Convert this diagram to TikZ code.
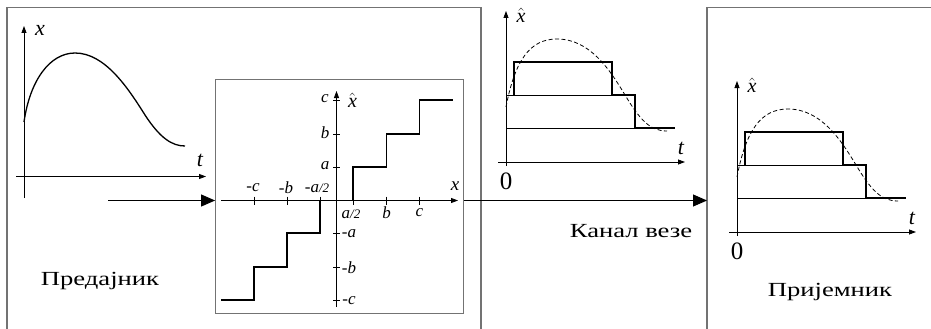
\documentclass[tikz,border=0pt]{standalone}
\usepackage{fontspec}
\setmainfont{Liberation Serif}
\newfontfamily\widefont[FakeStretch=1.33]{Liberation Serif}
\usetikzlibrary{arrows.meta}
\begin{document}
\begin{tikzpicture}[x=1pt,y=-1pt,
  frame/.style={draw=black!55, line width=1.3pt},
  ax/.style={line width=0.8pt, -{Triangle[length=7pt,width=5pt]}},
  big/.style={line width=1pt, -{Triangle[length=14pt,width=12pt]}},
  stair/.style={line width=1.6pt, line join=miter},
  thinl/.style={line width=0.8pt},
  curve/.style={line width=1.3pt},
  dcurve/.style={line width=0.8pt, dash pattern=on 4pt off 2.5pt},
  lab/.style={font=\fontsize{17}{17}\selectfont\itshape, inner sep=0pt},
  axlab/.style={font=\fontsize{22}{22}\selectfont\itshape, inner sep=0pt},
  hatlab/.style={font=\fontsize{20}{20}\selectfont, inner sep=0pt},
  zlab/.style={font=\fontsize{25}{25}\selectfont, inner sep=0pt},
  txt/.style={font=\widefont\fontsize{20}{20}\selectfont, inner sep=0pt}]

\useasboundingbox (0,0) rectangle (931,329);

% frames
\draw[frame] (7,329) -- (7,7.5) -- (481,7.5) -- (481,329);
\draw[frame] (707,329) -- (707,7.5) -- (931,7.5);
\node[frame, minimum width=248pt, minimum height=234pt, inner sep=0pt] (qbox) at (339.75,196.25) {};

% left plot
\draw[ax] (24,198) -- (24,26);
\draw[ax] (16,176.5) -- (206,176.5);
\node[axlab] (lx) at (40,30) {x};
\node[axlab] (lt) at (200,160) {t};
\draw[curve] (24,122) .. controls (30,80) and (50,53) .. (75,53)
  .. controls (105,53) and (128,88) .. (145,115)
  .. controls (160,138) and (172,146) .. (185,146);

% main arrows
\coordinate (in) at (108,200.5);
\coordinate (rx) at (707,200.5);
\draw[big] (in) -- (qbox.west |- in);
\draw[big] (qbox.east |- in) -- (rx);

% quantizer characteristic
\draw[ax] (221,200.5) -- (458,200.5);
\draw[ax] (336.5,307) -- (336.5,91);
\foreach \x in {254,287,320,353,386.5,419.5} \draw[thinl] (\x,196.5) -- (\x,204.5);
\foreach \y in {100,134,167,233,267,300} \draw[thinl] (333,\y) -- (340,\y);
\draw[stair] (221,300) -| (254,267) -| (287,233) -| (320,200.5) -| (353,167) -| (386.5,134) -| (419.5,100) -- (453,100);
\node[lab] (mc) at (253,188) {-c};
\node[lab] (mb) at (286,188) {-b};
\node[lab] (ma) at (317,188) {-a{\fontsize{13}{13}\selectfont/2}};
\node[lab] (pa) at (351,214) {a{\fontsize{13}{13}\selectfont/2}};
\node[lab] (pb) at (386.5,213) {b};
\node[lab] (pc) at (419.5,213) {c};
\node[lab] (yc) at (325,99) {c};
\node[lab] (yb) at (325,133) {b};
\node[lab] (ya) at (325,166) {a};
\node[lab] (yma) at (349,234) {-a};
\node[lab] (ymb) at (349,268) {-b};
\node[lab] (ymc) at (349,301) {-c};
\node[hatlab] (qxh) at (352.5,100) {$\hat{\textit{x}}$};
\node[lab, font=\fontsize{19}{19}\selectfont\itshape] (qx) at (455,186) {x};

% time plots (channel and receiver)
\foreach \dx/\dy/\i in {0/0/1, 231/70/2} {
\begin{scope}[shift={(\dx,\dy)}]
  \draw[ax] (506,166) -- (506,11);
  \draw[ax] (498,162) -- (685,162);
  \draw[thinl] (506,128) -- (675,128);
  \draw[thinl] (506,95) -- (612,95);
  \draw[stair] (514,95) |- (612,62) |- (635,95) |- (675,128);
  \draw[dcurve] (506,107) .. controls (515,60) and (530,39) .. (557,39)
    .. controls (590,39) and (610,70) .. (625,95)
    .. controls (640,120) and (650,131) .. (667,131);
  \node[hatlab] (xh\i) at (521,15) {$\hat{\textit{x}}$};
  \node[axlab] (t\i) at (681,148) {t};
  \node[zlab] (z\i) at (506,181) {0};
\end{scope}
}

% texts
\node[txt, anchor=base] (tx) at (100,285) {Предајник};
\node[txt, anchor=base] (ch) at (631,237) {Канал\ везе};
\node[txt, anchor=base] (rxl) at (830,296) {Пријемник};
\end{tikzpicture}
\end{document}
